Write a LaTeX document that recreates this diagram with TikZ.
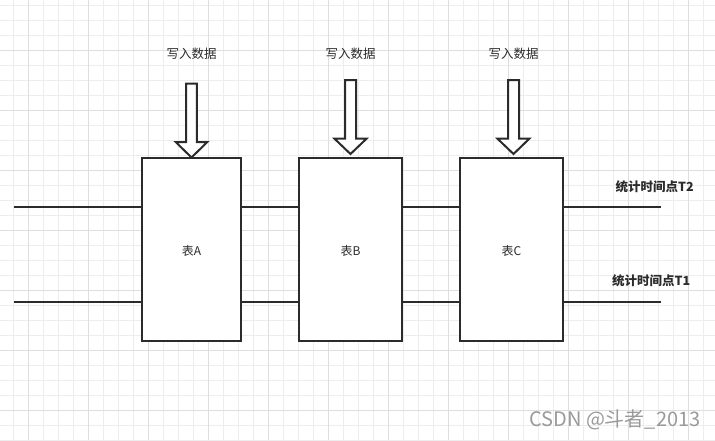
\documentclass[tikz,border=0pt]{standalone}
\usepackage{fontspec}
\newfontfamily\cjk{Noto Sans CJK SC}
\definecolor{ink}{HTML}{2B2B2B}
\definecolor{gridminor}{HTML}{EDEDED}
\definecolor{gridmajor}{HTML}{DEDEDE}
\definecolor{wm}{HTML}{9A9A9A}
\tikzset{
  tablebox/.style={draw=ink, line width=2pt, fill=white, inner sep=0pt, minimum width=99pt, minimum height=183pt, font=\cjk\fontsize{12}{14}\selectfont, text=ink},
  link/.style={draw=ink, line width=2pt},
  blockarrow/.style={draw=ink, line width=2pt, fill=white, line join=miter},
  toplabel/.style={font=\cjk\fontsize{12.5}{15}\selectfont, text=ink, inner sep=0pt},
  timelabel/.style={font=\cjk\bfseries\fontsize{12.5}{15}\selectfont, text=ink, inner sep=0pt, anchor=west},
}
\begin{document}
\begin{tikzpicture}[x=1pt,y=-1pt]
\useasboundingbox (0,0) rectangle (715,440);
\fill[white] (0,0) rectangle (715,440);
% grid
\foreach \i in {0,...,46} {
  \draw[gridminor, line width=1pt] ({13.3+15*\i},0) -- ({13.3+15*\i},440);
}
\foreach \j in {0,...,29} {
  \draw[gridminor, line width=1pt] (0,{5+15*\j}) -- (715,{5+15*\j});
}
\foreach \i in {0,...,11} {
  \draw[gridmajor, line width=1pt] ({28.3+60*\i},0) -- ({28.3+60*\i},440);
}
\foreach \j in {0,...,6} {
  \draw[gridmajor, line width=1pt] (0,{50+60*\j}) -- (715,{50+60*\j});
}
% tables
\node[tablebox, minimum width=99pt] (A) at (191.5,249) {\raisebox{-2pt}[\height][\depth]{表A}};
\node[tablebox, minimum width=103pt] (B) at (350.5,249) {\raisebox{-2pt}[\height][\depth]{表B}};
\node[tablebox, minimum width=103pt] (C) at (511.5,249) {\raisebox{-2pt}[\height][\depth]{表C}};
% free ends
\coordinate (L2) at (14,207);
\coordinate (L1) at (14,302);
\coordinate (R2) at (661,207);
\coordinate (R1) at (661,302);
% time lines
\draw[link] (L2) -- (A.west |- L2);
\draw[link] (A.east |- L2) -- (B.west |- L2);
\draw[link] (B.east |- L2) -- (C.west |- L2);
\draw[link] (C.east |- R2) -- (R2);
\draw[link] (L1) -- (A.west |- L1);
\draw[link] (A.east |- L1) -- (B.west |- L1);
\draw[link] (B.east |- L1) -- (C.west |- L1);
\draw[link] (C.east |- R1) -- (R1);
% write arrows
\draw[blockarrow] (186,83.5) -- (196.8,83.5) -- (196.8,142) -- (207.3,142) -- (191.5,157.5) -- (175.7,142) -- (186,142) -- cycle;
\draw[blockarrow] (345,80) -- (356,80) -- (356,138.7) -- (366.5,138.7) -- (350.5,154) -- (334.5,138.7) -- (345,138.7) -- cycle;
\draw[blockarrow] (508,80) -- (519,80) -- (519,138.7) -- (529.3,138.7) -- (513.5,154) -- (497.5,138.7) -- (508,138.7) -- cycle;
% labels
\node[toplabel] (wA) at (191.5,54) {写入数据};
\node[toplabel] (wB) at (350.5,54) {写入数据};
\node[toplabel] (wC) at (513.5,54) {写入数据};
\node[timelabel] (t2) at (615.5,187) {统计时间点T2};
\node[timelabel] (t1) at (612,281) {统计时间点T1};
% watermark
\node[font=\cjk\fontsize{20}{24}\selectfont, text=wm, anchor=west, inner sep=0pt] (wm) at (529,420) {CSDN @斗者\_2013};
\end{tikzpicture}
\end{document}
